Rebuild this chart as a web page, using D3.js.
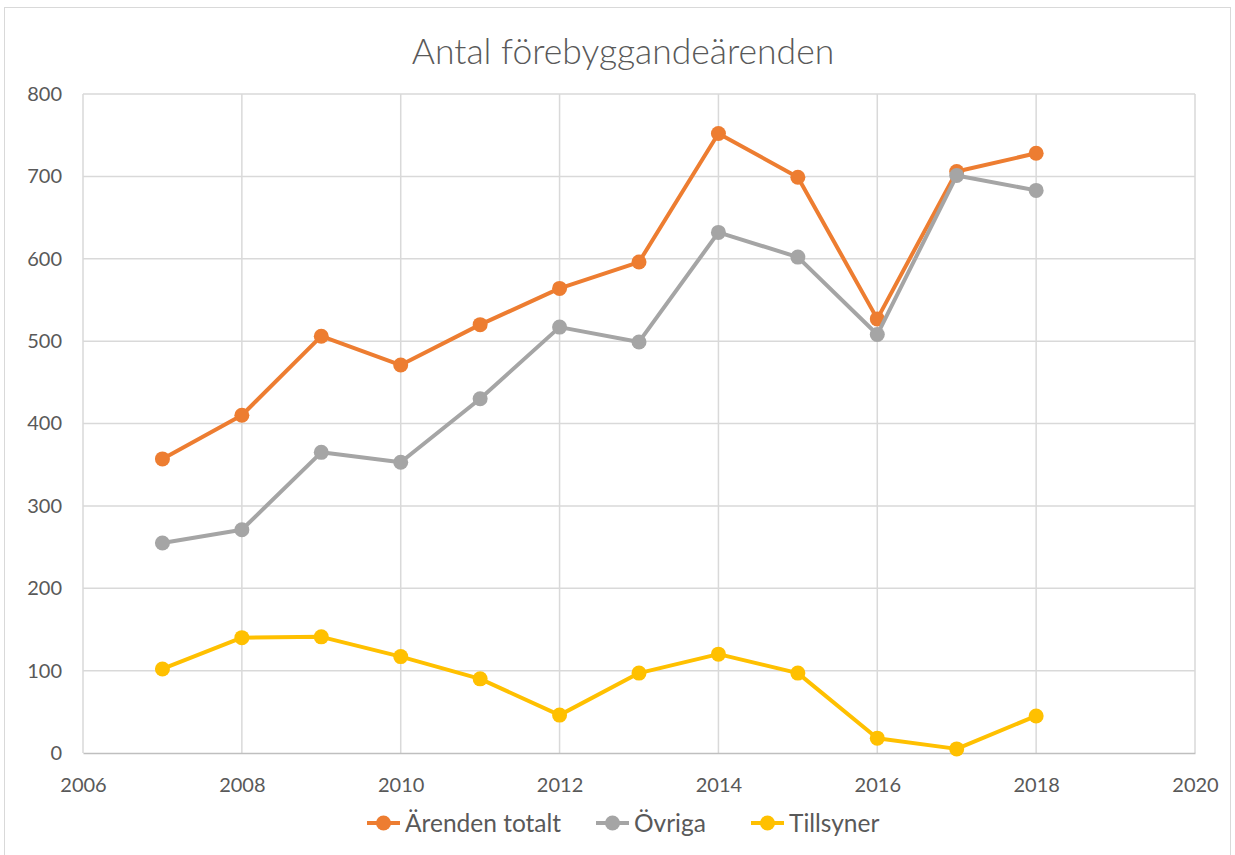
<!DOCTYPE html>
<html>
<head>
<meta charset="utf-8">
<script src="https://cdn.jsdelivr.net/npm/d3@7"></script>
<style>
    body { margin: 0; background: #fff; }
    svg text { font-family: Lato, "Open Sans", sans-serif; fill: #595959; }
</style>
</head>
<body>
<div id="chart"></div>
<script>
// chart data
const years = [2007, 2008, 2009, 2010, 2011, 2012, 2013, 2014, 2015, 2016, 2017, 2018];
const arendenTotalt = [357, 410, 506, 471, 520, 564, 596, 752, 699, 527, 706, 728];
const ovriga = [255, 271, 365, 353, 430, 517, 499, 632, 602, 508, 701, 683];
const tillsyner = [102, 140, 141, 117, 90, 46, 97, 120, 97, 18, 5, 45];
const xTicks = [2006, 2008, 2010, 2012, 2014, 2016, 2018, 2020];
const yTicks = [0, 100, 200, 300, 400, 500, 600, 700, 800];

const series = [
    {name: "Ärenden totalt", values: arendenTotalt, color: "#ED7D31"},
    {name: "Övriga", values: ovriga, color: "#A5A5A5"},
    {name: "Tillsyner", values: tillsyner, color: "#FFC000"}
];

const W = 1235, H = 855;
const margin = {top: 94, right: 40, bottom: 102, left: 83};
const width = 1195 - margin.left;
const height = 753 - margin.top;

const svg = d3.select("#chart").append("svg")
    .attr("width", W)
    .attr("height", H);

// outer chart border
svg.append("rect")
    .attr("x", 4.5).attr("y", 7.5)
    .attr("width", 1226).attr("height", 860)
    .attr("fill", "#fff")
    .attr("stroke", "#d9d9d9");

// title
svg.append("text")
    .attr("x", 623).attr("y", 64)
    .attr("text-anchor", "middle")
    .attr("font-size", "35.5px")
    .attr("font-weight", 300)
    .text("Antal förebyggandeärenden");

const g = svg.append("g")
    .attr("transform", `translate(${margin.left}, ${margin.top})`);

// scales
const x = d3.scaleLinear().domain([2006, 2020]).range([0, width]);
const y = d3.scaleLinear().domain([0, 800]).range([height, 0]);

// gridlines
g.append("g").selectAll("line.h")
    .data(yTicks.filter(d => d > 0))
    .enter().append("line")
    .attr("x1", 0).attr("x2", width)
    .attr("y1", d => y(d)).attr("y2", d => y(d))
    .attr("stroke", "#d9d9d9").attr("stroke-width", 1.5);

g.append("g").selectAll("line.v")
    .data(xTicks)
    .enter().append("line")
    .attr("y1", 0).attr("y2", height)
    .attr("x1", d => x(d)).attr("x2", d => x(d))
    .attr("stroke", "#d9d9d9").attr("stroke-width", 1.5);

// axes
const xAxis = d3.axisBottom(x).tickValues(xTicks).tickFormat(d3.format("d")).tickSize(0).tickPadding(25);
const yAxis = d3.axisLeft(y).tickValues(yTicks).tickSize(0).tickPadding(21);

g.append("g")
    .attr("transform", `translate(0, ${height})`)
    .call(xAxis)
    .call(a => a.select(".domain").attr("stroke", "#bfbfbf").attr("stroke-width", 1.5))
    .selectAll("text")
    .attr("font-size", "20px");

g.append("g")
    .call(yAxis)
    .call(a => a.select(".domain").remove())
    .selectAll("text")
    .attr("font-size", "20px");

// lines
const line = d3.line()
    .x((d, i) => x(years[i]))
    .y(d => y(d));

series.forEach(s => {
    g.append("path")
        .datum(s.values)
        .attr("fill", "none")
        .attr("stroke", s.color)
        .attr("stroke-width", 4)
        .attr("stroke-linejoin", "round")
        .attr("d", line);

    g.append("g").selectAll("circle")
        .data(s.values)
        .enter().append("circle")
        .attr("cx", (d, i) => x(years[i]))
        .attr("cy", d => y(d))
        .attr("r", 7.5)
        .attr("fill", s.color);
});

// legend
const legendX = [367, 596, 751];
const legend = svg.append("g").attr("transform", "translate(0, 823)");
series.forEach((s, i) => {
    const item = legend.append("g").attr("transform", `translate(${legendX[i]}, 0)`);
    item.append("line")
        .attr("x1", 0).attr("x2", 33)
        .attr("stroke", s.color).attr("stroke-width", 4);
    item.append("circle")
        .attr("cx", 16.5).attr("r", 7.5)
        .attr("fill", s.color);
    item.append("text")
        .attr("x", 38).attr("dy", "0.35em")
        .attr("font-size", "24.5px")
        .text(s.name);
});
</script>
</body>
</html>
